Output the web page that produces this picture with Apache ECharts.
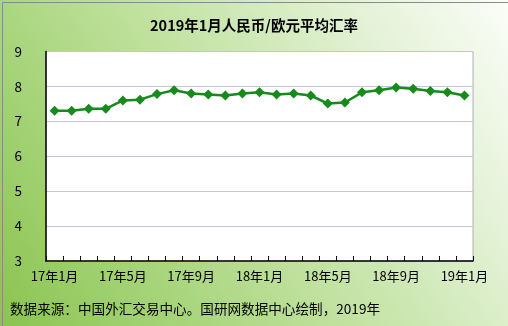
<!DOCTYPE html>
<html><head><meta charset="utf-8">
<script src="https://cdn.jsdelivr.net/npm/echarts@6/dist/echarts.min.js"></script>
<style>html,body{margin:0;padding:0;}#c{width:508px;height:326px;}</style>
</head><body><div id="c"></div>
<script>
var categories = ['17年1月','17年2月','17年3月','17年4月','17年5月','17年6月','17年7月','17年8月','17年9月','17年10月','17年11月','17年12月',
'18年1月','18年2月','18年3月','18年4月','18年5月','18年6月','18年7月','18年8月','18年9月','18年10月','18年11月','18年12月','19年1月'];
var rates = [7.30,7.30,7.36,7.36,7.60,7.62,7.78,7.89,7.80,7.77,7.74,7.80,7.83,7.77,7.80,7.74,7.51,7.54,7.83,7.89,7.97,7.93,7.87,7.83,7.74];
var yTicks = {min:3, max:9, interval:1};
var titleText = '2019年1月人民币/欧元平均汇率';
var sourceText = '数据来源：中国外汇交易中心。国研网数据中心绘制，2019年';

var chart = echarts.init(document.getElementById('c'), null, {renderer:'canvas'});
var font = '"Noto Sans CJK SC", "Liberation Sans", sans-serif';
chart.setOption({
  animation:false,
  backgroundColor: {type:'linear', x:0, y:1, x2:1, y2:0, colorStops:[
    {offset:0, color:'#8ac450'},{offset:0.45, color:'#bde09a'},{offset:0.8, color:'#e6f3da'},{offset:1, color:'#fbfdf8'}]},
  graphic:[
    {type:'rect', left:0, top:0, shape:{width:507, height:325}, style:{fill:'none', stroke:'#8a8a8a', lineWidth:1}, silent:true},
    {type:'rect', z:-1, shape:{x:46, y:51.5, width:427, height:209.5}, style:{fill:'#ffffff', stroke:'#b0b0b0', lineWidth:1}, silent:true},
    {type:'text', left:10, top:302, style:{text:sourceText, font:'13.6px '+font, fill:'#000'}}
  ],
  title:{text:titleText, left:'center', top:13, textStyle:{fontSize:14.5, fontWeight:'bold', fontFamily:font, color:'#000'}},
  grid:{left:46, right:35, top:51.5, bottom:65, containLabel:false},
  xAxis:{type:'category', data:categories, boundaryGap:true,
    axisLine:{lineStyle:{color:'#000', width:1.5}},
    axisTick:{show:true, interval:0, length:5, inside:true, lineStyle:{color:'#000'}},
    axisLabel:{interval:3, color:'#000', fontSize:13, fontFamily:font, margin:9},
    splitLine:{show:false}},
  yAxis:{type:'value', min:yTicks.min, max:yTicks.max, interval:yTicks.interval,
    axisLine:{show:true, lineStyle:{color:'#000', width:1.5}},
    axisTick:{show:false},
    axisLabel:{color:'#000', fontSize:13.5, fontFamily:font, margin:24, align:'right'},
    splitLine:{lineStyle:{color:'#c4c4dc', width:1}}},
  series:[{type:'line', data:rates, symbol:'diamond', symbolSize:10,
    lineStyle:{color:'#178a1c', width:2.5}, itemStyle:{color:'#178a1c'}}]
});
</script></body></html>
